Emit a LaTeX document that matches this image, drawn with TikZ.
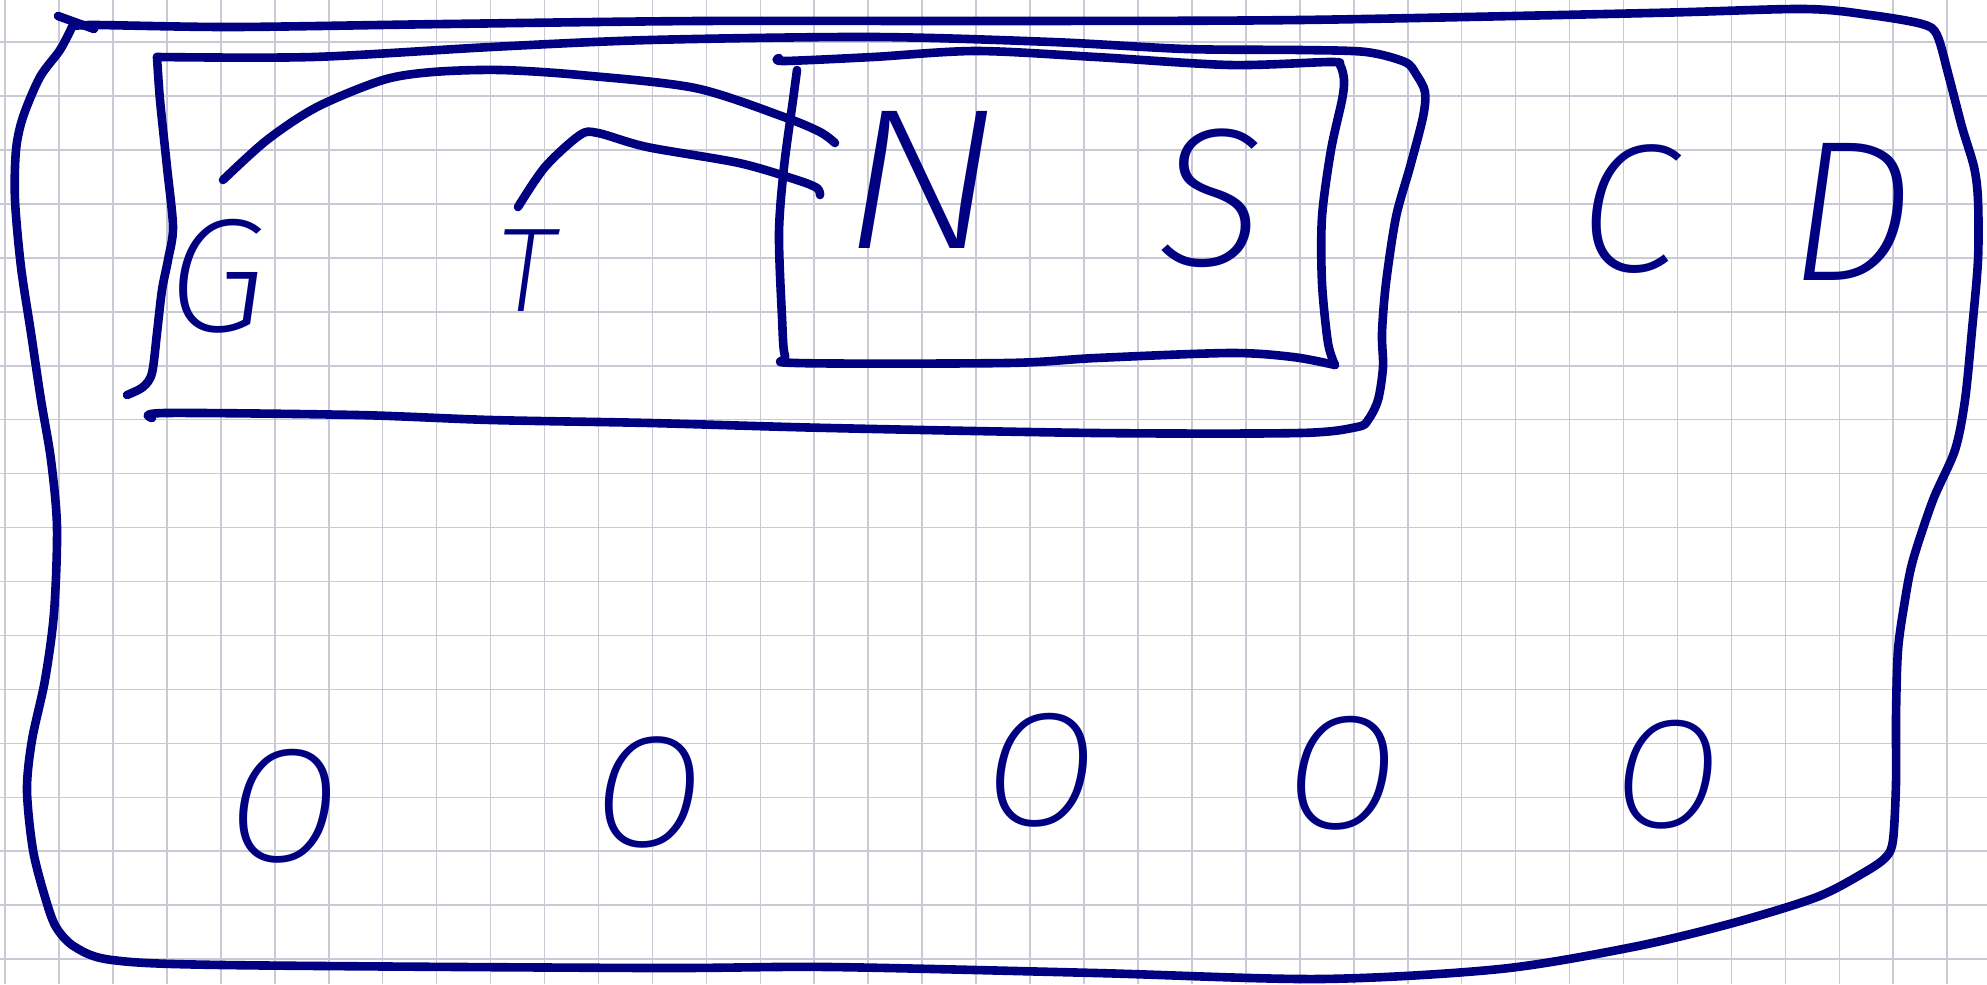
\documentclass[tikz,border=0pt]{standalone}
\usepackage{fontspec}
\newfontfamily\hand{Fira Sans ExtraLight}[ItalicFont={Fira Sans ExtraLight Italic}]
\definecolor{ink}{RGB}{0,0,128}
\definecolor{gridc}{RGB}{202,202,214}
\begin{document}
\begin{tikzpicture}[x=0.01cm,y=-0.01cm,
  pen/.style={draw=ink, line width=0.086cm, line cap=round, line join=round},
  gridline/.style={draw=gridc, line width=0.016cm},
  letter/.style={text=ink, inner sep=0pt, font=\hand\itshape\fontsize{#1}{#1}\selectfont}]
\fill[white] (0,0) rectangle (1987,984);
\useasboundingbox (0,0) rectangle (1987,984);
% grid paper
\foreach \i in {0,...,36} \draw[gridline] ({5+53.95*\i},0) -- ({5+53.95*\i},984);
\foreach \j in {0,...,17} \draw[gridline] (0,{42+53.95*\j}) -- (1987,{42+53.95*\j});

% outer frame
\draw[pen] (58,16) -- (94,29);
\draw[pen] plot[smooth, tension=0.5] coordinates {
 (72,27) (60,50) (40,77) (23,117) (16,150) (15,200) (21,267) (31,333) (41,400)
 (51,460) (57,527) (54,613) (45,680) (32,740) (27,790) (33,850) (45,897)
 (56,927) (75,947) (112,960) (223,965) (650,968) (829,967) (1096,973) (1320,979)
 (1500,969) (1633,947) (1733,923) (1817,897) (1865,872) (1886,857) (1893,840)
 (1896,783) (1896,717) (1898,650) (1905,600) (1913,560) (1933,500) (1955,450)
 (1965,400) (1972,330) (1978,260) (1978,200) (1974,167) (1962,127) (1949,77)
 (1937,35) (1922,24) (1870,15) (1804,9) (1651,13) (1300,20) (1000,21) (700,21)
 (446,24) (233,27) (93,25) (72,27)};

% middle frame (G T N S)
\draw[pen] plot[smooth, tension=0.5] coordinates {
 (127,395) (143,387) (152,373) (157,333) (162,290) (168,260) (173,227) (167,167)
 (160,100) (157,57)};
\draw[pen] plot[smooth, tension=0.5] coordinates {
 (157,57) (313,57) (491,47) (650,40) (873,37) (1052,42) (1186,49) (1300,50)
 (1366,52) (1405,62) (1416,74) (1425,92) (1423,117) (1410,167) (1396,217)
 (1386,283) (1382,333) (1383,367) (1378,400) (1368,420) (1357,427) (1300,433)
 (1096,433) (829,428) (650,423) (491,420) (357,415) (165,413) (152,418)};

% inner frame (N S)
\draw[pen] plot[smooth, tension=0.5] coordinates {
 (779,58) (784,61) (873,57) (976,51) (1096,57) (1230,65) (1330,62) (1340,65)
 (1344,80) (1342,100) (1331,150) (1322,217) (1322,283) (1328,343) (1335,365)};
\draw[pen] plot[smooth, tension=0.5] coordinates {
 (1335,365) (1293,357) (1230,353) (1096,358) (1007,363) (797,363) (785,356)
 (782,317) (779,233) (784,167) (793,100) (797,70)};

% letters
\node[letter=46pt]  (G) at (217,276) {G};
\node[letter=34pt]  (T) at (526,271) {T};
\node[letter=57pt, xscale=1.2]  (N) at (921,180) {N};
\node[letter=56pt]  (S) at (1211,198) {S};
\node[letter=52pt]  (C) at (1628,209) {C};
\node[letter=57pt]  (D) at (1851,212) {D};
\node[letter=46pt]  (o1) at (283,806) {O};
\node[letter=45pt]  (o2) at (648,792) {O};
\node[letter=46pt]  (o3) at (1040,770) {O};
\node[letter=46pt]  (o4) at (1341,773) {O};
\node[letter=44pt]  (o5) at (1667,775) {O};

% connectors from G and T towards the N box
\coordinate (gs) at (223,180);
\coordinate (ge) at (835,143);
\coordinate (ts) at (518,207);
\coordinate (te) at (820,195);
\draw[pen] plot[smooth, tension=0.5] coordinates {
 (gs) (267,140) (317,107) (383,80) (433,72) (500,70) (580,75) (695,88) (784,117) (820,132) (ge)};
\draw[pen] plot[smooth, tension=0.5] coordinates {
 (ts) (545,167) (580,135) (598,133) (647,147) (739,163) (797,180) (817,188) (te)};
\end{tikzpicture}
\end{document}
